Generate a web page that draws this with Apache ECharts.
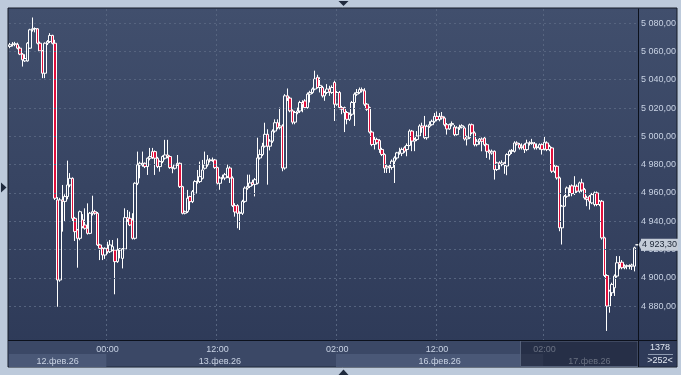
<!DOCTYPE html>
<html><head><meta charset="utf-8">
<script src="https://cdn.jsdelivr.net/npm/echarts@6/dist/echarts.min.js"></script>
<style>html,body{margin:0;padding:0;background:#bdcadb;overflow:hidden}#c{width:681px;height:375px}</style>
</head><body><div id="c"></div>
<script>
// [open, close, low, high] per 15-minute bar
const day12 = [
[5063.5,5064.7,5062.3,5066.0],[5064.7,5065.1,5063.5,5066.6],[5065.1,5065.4,5063.7,5066.8],[5065.0,5062.3,5061.5,5066.2],
[5062.3,5058.1,5057.4,5063.5],[5058.1,5054.1,5049.3,5058.8],[5053.3,5055.0,5052.5,5058.0],[5053.3,5065.8,5052.8,5066.6],
[5062.3,5075.3,5061.8,5076.0],[5075.3,5076.0,5074.0,5084.0],[5076.0,5076.2,5073.5,5077.0],[5076.0,5065.8,5065.0,5076.5],
[5065.8,5060.4,5059.5,5067.0],[5060.4,5044.6,5041.1,5061.0],[5044.6,5065.8,5041.1,5066.4],[5065.8,5067.0,5064.5,5068.0],
[5067.0,5071.3,5066.0,5072.9],[5071.3,5065.8,5065.0,5071.8],[5065.8,4956.2,4955.0,5068.2],[4955.0,4898.4,4879.5,4957.0],
[4898.4,4955.0,4897.2,4956.5],[4955.0,4954.0,4932.6,4965.6],[4954.0,4957.4,4939.7,4959.0],[4957.4,4965.6,4955.5,4982.8],
[4965.6,4970.3,4964.0,4974.0],[4970.3,4942.0,4940.1,4971.0],[4942.0,4932.6,4926.0,4943.0],[4933.8,4927.9,4907.1,4934.5],
[4927.9,4946.7,4926.5,4947.5],[4941.0,4936.1,4935.0,4945.0],[4937.3,4935.0,4934.0,4949.1],[4935.0,4931.4,4930.5,4952.6],
[4931.4,4945.6,4930.8,4946.5],[4945.6,4946.7,4944.0,4958.0],[4946.7,4945.6,4944.5,4948.0],[4945.6,4923.2,4922.5,4946.5],
[4923.2,4920.8,4912.5,4924.0],[4920.8,4916.1,4912.5,4921.5],[4916.1,4920.8,4913.3,4921.5]
];
const day13 = [
[4920.8,4918.4,4917.0,4925.5],[4918.4,4923.2,4917.5,4926.7],[4919.6,4922.0,4918.8,4926.7],[4919.6,4911.4,4888.3,4920.2],
[4911.4,4919.6,4910.5,4927.9],[4919.6,4920.3,4913.7,4921.0],[4913.7,4920.3,4906.6,4921.0],[4920.3,4942.5,4919.5,4949.1],
[4942.5,4941.0,4939.5,4947.9],[4942.0,4937.3,4936.5,4946.7],[4940.8,4927.9,4927.0,4945.6],[4927.9,4966.8,4927.0,4967.5],
[4966.8,4979.8,4965.5,4989.2],[4979.8,4980.9,4970.3,4982.1],[4979.8,4980.9,4978.5,4989.2],[4980.9,4978.6,4977.5,4981.5],
[4978.6,4984.5,4972.7,4985.0],[4984.5,4985.7,4983.0,4991.8],[4989.2,4985.0,4984.0,4991.8],[4989.2,4984.5,4972.7,4990.0],
[4984.5,4978.6,4977.5,4985.5],[4978.6,4982.1,4975.0,4983.0],[4982.1,4985.7,4981.0,4986.5],[4984.5,4986.8,4983.5,4997.5],
[4986.8,4985.7,4984.5,4997.5],[4985.7,4977.9,4977.0,4986.5],[4977.9,4977.4,4973.9,4978.5],[4977.4,4979.8,4976.5,4980.5],
[4979.8,4980.9,4979.0,4986.8],[4980.9,4964.4,4963.5,4981.5],[4964.4,4945.6,4944.8,4965.0],[4945.6,4946.7,4944.8,4947.5],
[4946.7,4956.2,4945.8,4962.1],[4957.4,4953.8,4948.0,4958.0],[4953.8,4960.9,4952.8,4962.0],[4959.7,4968.0,4958.8,4969.0],
[4968.0,4968.4,4966.5,4976.2],[4968.0,4971.5,4967.0,4982.1],[4970.3,4976.2,4969.5,4983.3],[4977.4,4979.8,4976.5,4989.2],
[4979.8,4983.3,4978.5,4986.8],[4983.3,4982.8,4981.5,4984.5],[4982.8,4983.3,4982.0,4985.0],[4983.3,4977.9,4977.0,4984.0],
[4977.9,4966.8,4966.0,4978.5],[4966.8,4970.5,4962.2,4971.7],[4970.5,4971.0,4969.5,4972.9],[4970.5,4972.9,4969.0,4974.1],
[4971.7,4977.6,4970.5,4980.0],[4977.6,4970.5,4967.0,4978.8],[4970.5,4951.0,4950.0,4971.7],[4951.0,4946.5,4943.2,4952.7],
[4951.0,4945.6,4935.0,4952.0],[4945.6,4946.0,4933.8,4947.0],[4945.6,4954.0,4944.4,4955.1],[4954.0,4963.4,4953.0,4964.6],
[4963.4,4964.6,4962.2,4972.9],[4964.6,4967.0,4963.4,4972.9],[4967.5,4966.0,4965.0,4969.3],[4966.0,4969.3,4957.5,4970.5],
[4966.8,4984.7,4966.0,4999.0],[4984.7,4987.1,4983.6,4990.7],[4987.1,4993.0,4986.0,4995.4],[4993.0,5001.4,4992.0,5009.6],
[5001.4,4993.0,4965.8,5005.0],[4993.0,4996.6,4990.0,4998.0],[4996.6,5003.7,4995.4,5004.9],[5003.7,5009.6,5002.5,5012.0],
[5009.6,5006.1,5004.9,5012.0],[5006.1,5007.3,5004.9,5020.3],[5007.3,4977.6,4975.3,5008.5],[4977.6,5028.6,4976.4,5029.8],
[5028.6,5027.0,5025.0,5033.8],[5027.0,5018.0,5017.0,5028.0],[5018.0,5010.0,5008.5,5019.0],[5010.0,5016.8,5008.5,5018.0],
[5016.8,5017.9,5015.6,5020.3],[5017.9,5023.9,5016.5,5025.1],[5023.9,5022.7,5017.0,5025.5],[5025.0,5020.3,5019.0,5026.2],
[5020.3,5029.8,5019.5,5031.0],[5029.8,5031.0,5023.9,5032.2],[5031.0,5033.4,5030.0,5034.5],[5033.4,5040.5,5032.5,5046.4],
[5041.7,5034.5,5033.8,5043.5],[5034.5,5036.0,5031.0,5041.7],[5034.5,5028.6,5027.4,5035.7],[5028.6,5031.0,5025.1,5032.2],
[5031.0,5033.4,5029.8,5036.9],[5033.4,5031.5,5028.6,5035.7],[5031.0,5034.5,5030.0,5036.0],[5038.1,5022.7,5010.8,5039.3]
];
const day16 = [
[5022.7,5031.0,5021.5,5032.0],[5031.0,5020.3,5019.1,5032.0],[5020.3,5019.1,5015.6,5021.5],[5020.3,5016.8,5003.0,5021.0],
[5016.8,5012.0,5008.5,5017.9],[5012.0,5015.6,5010.8,5016.8],[5015.6,5023.9,5014.4,5025.0],[5023.9,5029.8,5007.3,5031.0],
[5029.8,5031.0,5028.6,5033.4],[5031.0,5033.0,5030.0,5034.5],[5033.0,5032.2,5031.0,5034.5],[5032.2,5022.7,5021.5,5034.0],
[5022.7,5019.1,5018.0,5023.5],[5020.3,5003.0,5002.0,5021.0],[5003.0,4994.2,4993.0,5004.0],[4994.2,4997.8,4990.7,5000.2],
[4997.8,4995.4,4994.2,4999.0],[4997.0,4990.7,4988.3,4998.0],[4990.7,4987.1,4986.0,4991.9],[4987.1,4977.6,4974.1,4988.0],
[4977.6,4978.8,4974.1,4980.0],[4978.8,4978.0,4974.1,4980.0],[4978.0,4982.4,4976.4,4983.6],[4982.4,4984.7,4967.0,4985.9],
[4984.7,4988.3,4983.5,4989.0],[4988.3,4989.0,4987.0,4991.9],[4988.0,4990.7,4986.0,4992.0],[4991.9,4989.5,4988.3,4993.0],
[4990.7,4993.5,4985.9,4995.0],[4993.5,5003.7,4993.0,5004.9],[5003.7,4996.6,4989.5,5004.5],[4996.6,4997.8,4989.5,4999.0],
[4997.8,5000.2,4996.6,5003.7],[5000.2,5007.3,4999.5,5008.5],[5007.3,5006.1,5002.5,5009.6],[5007.3,4999.0,4998.0,5014.4],
[4999.0,5007.1,4997.6,5008.2],[5007.1,5008.2,5006.0,5010.6],[5008.2,5010.6,5007.5,5011.8],[5010.6,5014.1,5009.5,5016.5],
[5014.1,5011.8,5010.6,5017.6],[5011.8,5014.1,5010.6,5016.5],[5014.1,5013.0,5011.8,5017.2],[5012.9,5008.2,5007.0,5014.0],
[5008.2,5005.2,5001.2,5009.4],[5005.2,5008.2,5004.5,5009.0],[5008.2,5009.0,5007.0,5010.5],[5006.5,5001.2,4999.5,5008.0],
[5001.2,5005.9,5000.5,5007.1],[5005.9,5006.5,5004.5,5008.2],[5006.5,5007.5,5005.5,5008.5],[5005.9,4998.1,4997.0,5007.0],
[4998.1,4999.5,4993.5,5000.5],[4999.0,5008.2,4998.0,5009.0],[5008.2,5002.4,5001.5,5009.0],[5002.4,4994.1,4992.9,5003.5],
[4994.1,4996.5,4992.9,4998.0],[4996.5,4998.0,4994.1,4998.8],[4998.0,4996.5,4989.4,4999.2],[4998.8,4994.1,4993.0,4999.5],
[4994.1,4989.4,4984.7,4995.0],[4989.4,4988.2,4983.5,4990.6],[4988.2,4989.4,4987.0,4990.6],[4989.4,4976.5,4969.4,4990.0],
[4976.5,4981.2,4975.5,4982.0],[4981.2,4980.0,4976.5,4982.4],[4980.0,4981.2,4978.8,4983.0],[4981.2,4980.5,4973.5,4982.0],
[4979.0,4987.1,4972.5,4988.0],[4987.1,4989.4,4986.0,4990.5],[4989.4,4990.0,4987.5,4991.0],[4989.4,4995.3,4988.5,4996.5],
[4995.3,4994.5,4993.5,4996.5],[4994.1,4991.8,4990.6,4995.3],[4992.0,4993.0,4990.6,4995.0],[4994.1,4990.6,4988.2,4995.0],
[4990.6,4995.3,4989.5,4997.6],[4995.3,4995.0,4993.5,4996.5],[4995.0,4995.5,4994.0,4998.2],[4994.8,4991.8,4990.6,4996.0],
[4992.5,4992.0,4990.6,4995.0],[4991.8,4994.1,4990.5,4995.0],[4994.1,4990.6,4987.1,4995.0]
];
const day17 = [
[4991.0,4995.8,4990.0,5000.0],[4995.3,4990.6,4989.5,4996.5],[4990.6,4992.9,4989.5,4994.0],[4991.8,4975.3,4974.1,4992.5],
[4975.3,4978.8,4974.0,4980.0],[4978.8,4970.6,4969.4,4979.5],[4970.6,4935.3,4932.9,4971.5],[4935.3,4950.6,4923.5,4951.5],
[4950.6,4957.6,4950.0,4958.5],[4957.6,4963.5,4956.5,4964.5],[4963.5,4963.0,4957.5,4965.5],[4965.0,4959.5,4957.6,4966.0],
[4959.5,4964.7,4958.5,4971.8],[4964.7,4961.2,4960.0,4966.0],[4961.2,4967.1,4960.0,4968.0],[4967.1,4962.0,4960.5,4970.0],
[4962.4,4956.5,4955.3,4963.5],[4956.5,4955.3,4950.6,4958.0],[4957.6,4954.1,4948.2,4958.5],[4952.9,4958.8,4952.0,4960.0],
[4951.8,4960.0,4950.5,4961.0],[4960.0,4951.8,4950.6,4961.0],[4951.8,4954.1,4950.6,4955.0],[4954.1,4928.2,4927.0,4955.0],
[4928.2,4901.6,4900.5,4929.0],[4901.6,4880.0,4862.4,4902.5],[4880.0,4890.6,4875.3,4891.5],[4889.4,4895.3,4887.1,4896.5],
[4892.9,4901.2,4887.1,4902.4],[4901.2,4910.6,4900.0,4915.3],[4910.6,4909.4,4906.0,4915.3],[4911.0,4907.1,4906.0,4912.5],
[4907.1,4908.2,4906.0,4909.5],[4908.2,4908.5,4906.0,4909.4],[4908.5,4908.0,4906.0,4909.5],[4908.2,4909.0,4905.5,4910.0],
[4908.2,4921.2,4904.5,4922.0],[4923.3,4923.3,4923.3,4923.3]
];
const timeTickIndex = [39, 83, 131, 171, 214];
const timeTickLabels = ['00:00', '12:00', '02:00', '12:00', '02:00'];
const dateStartIndex = [0, 39, 131, 214];
const dateLabels = ['12.фев.26', '13.фев.26', '16.фев.26', '17.фев.26'];
const yGridValues = [4880, 4900, 4920, 4940, 4960, 4980, 5000, 5020, 5040, 5060, 5080];
const lastPrice = 4923.30;
const totalBarsLabel = '1378';
const visibleBarsLabel = '>252<';

const candles = [...day12, ...day13, ...day16, ...day17];
const categories = candles.map((_, i) => 'bar' + (i + 1));
const dateLabelIndex = dateStartIndex.map((s, j) => {
  const e = j + 1 < dateStartIndex.length ? dateStartIndex[j + 1] : candles.length;
  return Math.floor((s + e - 1) / 2);
});
const fmt = v => {
  const p = v.toFixed(2).split('.');
  return p[0].replace(/\B(?=(\d{3})+(?!\d))/g, ' ') + ',' + p[1];
};
const FONT = 'Liberation Sans, Arial, sans-serif';
const LABEL = '#c9d3e4';

const chart = echarts.init(document.getElementById('c'), null, {renderer: 'canvas'});
const option = {
  animation: false,
  backgroundColor: '#bdcadb',
  grid: {left: 9, right: 43, top: 9, bottom: 35},
  xAxis: [{
    type: 'category', data: categories, boundaryGap: true,
    axisLine: {show: true, lineStyle: {color: '#0c111c', width: 1}},
    axisTick: {show: false},
    axisLabel: {
      interval: i => timeTickIndex.includes(i),
      formatter: (v, i) => timeTickLabels[timeTickIndex.indexOf(i)],
      color: LABEL, fontSize: 9, fontFamily: FONT, margin: 5
    },
    splitLine: {show: true, interval: i => timeTickIndex.includes(i),
      lineStyle: {color: '#56647f', type: [2, 3], width: 1}}
  }, {
    type: 'category', data: categories, boundaryGap: true, position: 'bottom', offset: 13,
    axisLine: {show: false}, axisTick: {show: false}, splitLine: {show: false},
    axisLabel: {
      interval: i => dateLabelIndex.includes(i),
      formatter: (v, i) => dateLabels[dateLabelIndex.indexOf(i)],
      color: LABEL, fontSize: 9, fontFamily: FONT, margin: 4
    }
  }],
  yAxis: {
    type: 'value', position: 'right', min: 4856, max: 5090, interval: 4, scale: true,
    axisLine: {show: true, lineStyle: {color: '#0c111c', width: 1}},
    axisTick: {show: false},
    splitLine: {show: false},
    axisLabel: {
      formatter: v => (Math.abs(v - Math.round(v)) < 1e-6 && yGridValues.includes(Math.round(v)) ? fmt(Math.round(v)) : ''),
      color: LABEL, fontSize: 9, fontFamily: FONT, margin: 3
    }
  },
  series: [{
    type: 'candlestick', data: candles, barWidth: 3, z: 3,
    itemStyle: {color: 'rgba(0,0,0,0)', color0: '#e0103c', borderColor: '#ffffff', borderColor0: '#ffffff', borderWidth: 1},
    markLine: {
      silent: true, symbol: 'none', animation: false,
      data: yGridValues.map(v => ({yAxis: v, lineStyle: {color: '#56647f', type: [2, 3], width: 1}, label: {show: false}}))
    }
  }, {
    type: 'line', data: [], silent: true, z: 12,
    markLine: {
      silent: true, symbol: 'none', animation: false,
      data: [{yAxis: lastPrice, lineStyle: {color: 'rgba(0,0,0,0)', width: 0}, label: {show: true, position: 'end', distance: 3,
          formatter: fmt(lastPrice), color: '#1c2535', backgroundColor: '#c4ccd8', padding: [2, 1, 1, 1],
          fontSize: 9, fontFamily: FONT}}]
    }
  }]
};
chart.setOption(option);

const px = k => chart.convertToPixel({xAxisIndex: 0}, k);
const band = px(1) - px(0);
const edge = k => (k >= candles.length ? px(candles.length - 1) + band / 2 : px(k) - band / 2);
const bandRects = dateStartIndex.map((s, j) => {
  if (j % 2 === 1) return null;
  const e = j + 1 < dateStartIndex.length ? dateStartIndex[j + 1] : candles.length;
  return {type: 'rect', z: -5, silent: true, shape: {x: edge(s), y: 354, width: edge(e) - edge(s), height: 13},
    style: {fill: '#4a5877'}};
}).filter(Boolean);
const tagY = chart.convertToPixel({yAxisIndex: 0}, lastPrice);

chart.setOption({
  graphic: [
    {type: 'rect', z: -10, silent: true, shape: {x: 8, y: 8, width: 669, height: 359},
      style: {fill: new echarts.graphic.LinearGradient(0, 0, 0, 1, [{offset: 0, color: '#414f6d'}, {offset: 1, color: '#2d3957'}]),
        stroke: '#161c29', lineWidth: 1}},
    {type: 'rect', z: -6, silent: true, shape: {x: 8.5, y: 340.5, width: 630, height: 26}, style: {fill: '#3b4866'}},
    ...bandRects,
    {type: 'rect', z: 10, silent: true, shape: {x: 520.5, y: 341, width: 117.5, height: 25.5},
      style: {fill: 'rgba(22,28,45,0.55)', stroke: '#56627b', lineWidth: 1}},
    {type: 'rect', z: -6, silent: true, shape: {x: 638.5, y: 340.5, width: 38, height: 26}, style: {fill: '#2f3b59'}},
    {type: 'polygon', z: 12, silent: true, shape: {points: [[638.5, tagY], [641.5, tagY - 5.5], [641.5, tagY + 5.5]]}, style: {fill: '#c4ccd8'}},
    {type: 'line', z: 11, silent: true, shape: {x1: 638.5, y1: 9, x2: 638.5, y2: 367}, style: {stroke: '#0c111c', lineWidth: 1}},
    {type: 'line', z: 11, silent: true, shape: {x1: 8, y1: 340.5, x2: 677, y2: 340.5}, style: {stroke: '#0c111c', lineWidth: 1}},
    {type: 'line', z: 11, silent: true, shape: {x1: 648, y1: 354.5, x2: 673, y2: 354.5}, style: {stroke: '#8f9bb1', lineWidth: 1}},
    {type: 'text', z: 11, silent: true, x: 660, y: 348, style: {text: totalBarsLabel, fill: '#e2e8f2', font: '9px ' + FONT, align: 'center', verticalAlign: 'middle'}},
    {type: 'text', z: 11, silent: true, x: 660, y: 360.5, style: {text: visibleBarsLabel, fill: '#e2e8f2', font: '9px ' + FONT, align: 'center', verticalAlign: 'middle'}},
    {type: 'polygon', z: 11, silent: true, shape: {points: [[338.5, 1], [348.5, 1], [343.5, 6]]}, style: {fill: '#1f2a3d'}},
    {type: 'polygon', z: 11, silent: true, shape: {points: [[338.5, 375], [348.5, 375], [343.5, 369.5]]}, style: {fill: '#1f2a3d'}},
    {type: 'polygon', z: 11, silent: true, shape: {points: [[1, 182.5], [1, 192.5], [6.5, 187.5]]}, style: {fill: '#1f2a3d'}}
  ]
});
</script></body></html>
